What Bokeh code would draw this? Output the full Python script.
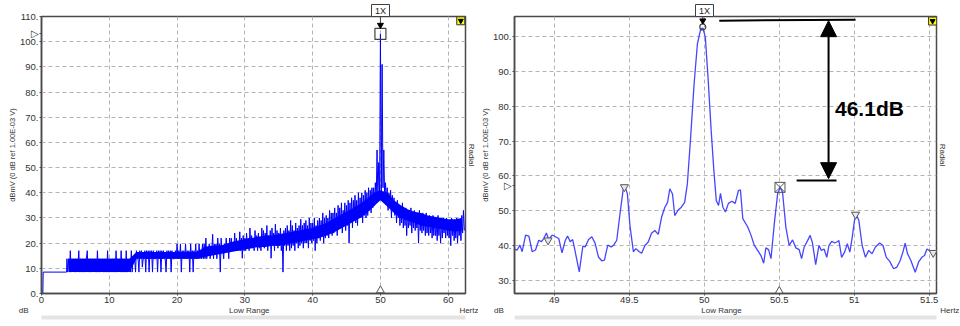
import math
from bokeh.plotting import figure
from bokeh.layouts import row
from bokeh.models import (Range1d, CustomJSTickFormatter, FixedTicker, Label, Arrow, NormalHead,
                          LinearAxis)
from bokeh.embed import file_html
from bokeh.resources import INLINE

FONT = "Liberation Sans"
NB = "\u00a0"

# ---------------- data ----------------
left_x_ticks = [0, 10, 20, 30, 40, 50, 60]
left_y_ticks = [0, 10, 20, 30, 40, 50, 60, 70, 80, 90, 100, 110]
right_x_ticks = [49, 49.5, 50, 50.5, 51, 51.5]
right_y_ticks = [30, 40, 50, 60, 70, 80, 90, 100]
bottom_texts = ["dB", "Low Range", "Hertz"]
side_text = "Radial"
order_text = "1X"
y_title = "dBmV (0 dB ref 1.00E-03 V)"

# left spectrum: lead-in, then per 0.25 Hz bin a high and a low reading
left_lead_f = [0.2, 0.25, 3.7]
left_lead_v = [0.0, 8.5, 8.5]
left_bin0 = 3.75
left_bin_step = 0.25
left_hi = [
    13.8,
    13.8, 17, 13.8, 13.8,
    13.8, 13.8, 17, 13.8,
    13.8, 13.8, 13.8, 17,
    13.8, 13.8, 13.8, 13.8,
    13.8, 17, 13.8, 13.8,
    13.8, 13.8, 13.8, 17,
    13.8, 13.8, 13.8, 13.8,
    17, 13.8, 13.8, 17,
    13.8, 13.8, 17, 13.8,
    13.8, 17, 13.8, 13.8,
    17, 13.8, 17, 17,
    13.8, 17, 17, 17,
    17, 17, 17, 13.8,
    17, 17, 17, 17,
    17, 13.8, 17, 17,
    17, 17, 13.8, 17,
    19.7, 17, 19.7, 17,
    17, 19.7, 17, 17,
    19.7, 17, 17, 19.7,
    17, 19.7, 17, 19.7,
    19.7, 22, 17, 19.7,
    17, 23.5, 19.7, 19.7,
    22, 19.7, 22, 17,
    19.7, 22, 19.7, 22,
    22, 19.7, 24, 22,
    20, 24.5, 22, 23,
    22, 24, 22, 26,
    23, 21, 25, 23,
    24, 22, 26, 25,
    24, 27, 23, 25,
    26, 24, 27.5, 25,
    24, 26, 23, 25,
    26, 27, 25, 29,
    27, 25, 28, 26,
    27, 29.5, 27, 28,
    29, 27, 30, 28,
    28, 30, 27, 29,
    30, 29, 32, 30,
    31, 30, 33, 32,
    32, 34, 32, 35,
    34, 36, 33, 36,
    35, 37, 36, 38,
    37, 39, 37, 40,
    38, 40, 39, 41,
    40, 42, 41, 42,
    42, 44, 57, 52,
    103, 91, 57, 44,
    42, 40, 41, 39,
    38, 36, 37, 35,
    34, 36, 33, 34,
    33, 31, 34, 32,
    33, 31, 30, 33,
    31, 32, 30, 32,
    30, 31, 29, 31,
    30, 28, 31, 29,
    29, 30, 28, 30,
    29, 27, 30, 28,
    28, 30, 27, 29,
    31, 33,
]
left_lo = [
    8.5,
    8.5, 8.5, 10.5, 8.5,
    8.5, 10.5, 8.5, 8.5,
    8.5, 8.5, 13.8, 8.5,
    8.5, 8.5, 10.5, 8.5,
    8.5, 8.5, 8.5, 10.5,
    8.5, 8.5, 8.5, 8.5,
    10.5, 8.5, 8.5, 8.5,
    8.5, 10.5, 8.5, 8.5,
    8.5, 8.5, 8.5, 10.5,
    8.5, 8.5, 13.8, 8.5,
    13.8, 8.5, 13.8, 10.5,
    13.8, 8.5, 13.8, 8.5,
    13.8, 8.5, 13.8, 13.8,
    8.5, 13.8, 8.5, 13.8,
    13.8, 8.5, 13.8, 13.8,
    8.5, 13.8, 13.8, 13.8,
    13.8, 13.8, 8.5, 13.8,
    13.8, 13.8, 13.8, 8.5,
    13.8, 8.5, 13.8, 13.8,
    13.8, 13.8, 13.8, 13.8,
    13.8, 13.8, 17, 13.8,
    17, 13.8, 17, 13.8,
    17, 8.5, 17, 13.8,
    17, 17, 13.8, 17,
    17, 17, 17, 17,
    17, 17, 14, 17,
    17, 19, 17, 18,
    18, 17, 19, 17,
    18, 17, 19, 18,
    19, 17, 19, 14,
    19, 17, 19, 18,
    19, 17, 8.5, 19,
    17, 19, 17, 18,
    19, 17, 20, 18,
    19, 20, 18, 20,
    20, 18, 21, 20,
    21, 17, 20, 22,
    21, 23, 20, 22,
    23, 22, 24, 23,
    24, 25, 23, 26,
    26, 24, 27, 25,
    27, 20, 28, 26,
    29, 28, 27, 30,
    30, 28, 31, 30,
    31, 33, 32, 34,
    35, 36, 38, 40,
    40, 42, 38, 36,
    33, 35, 30, 33,
    31, 28, 30, 27,
    28, 26, 27, 23,
    26, 27, 24, 26,
    25, 26, 20, 25,
    24, 25, 23, 24,
    23, 24, 22, 23,
    23, 21, 23, 20,
    22, 24, 22, 23,
    22, 19, 23, 21,
    22, 20, 23, 21,
    24, 25,
]
# dense core of the left noise band, read per 1 Hz (4 ... 62 Hz)
core_f = [4, 5, 6, 7, 8, 9, 10, 11, 12, 13,
          14, 15, 16, 17, 18, 19, 20, 21, 22, 23,
          24, 25, 26, 27, 28, 29, 30, 31, 32, 33,
          34, 35, 36, 37, 38, 39, 40, 41, 42, 43,
          44, 45, 46, 47, 48, 49, 50, 51, 52, 53,
          54, 55, 56, 57, 58, 59, 60, 61, 62]
core_lo = [8.5, 8.5, 8.5, 8.5, 8.5, 8.5, 8.5, 8.5, 8.5, 8.5,
           13.8, 13.8, 13.8, 13.8, 13.8, 13.8, 13.8, 13.8, 13.8, 13.8,
           14.5, 15, 15.5, 16, 16.5, 17, 17.5, 18, 18.5, 18.5,
           19, 19, 19.5, 20, 20.5, 21, 21.5, 22, 23, 24,
           25.5, 27, 28.5, 30, 32, 34.5, 37, 34.5, 32, 30,
           29, 28, 27, 26.5, 26, 25.5, 25, 24.5, 25]
core_hi = [13.8, 13.8, 13.8, 13.8, 13.8, 13.8, 13.8, 13.8, 13.8, 13.8,
           16.5, 16.5, 16.5, 16.5, 16.5, 16.5, 16.5, 16.5, 16.5, 16.5,
           18.5, 19, 19, 19.5, 20.5, 21, 21.5, 22, 22.5, 23,
           23, 23.5, 24, 24.5, 25, 25.5, 26, 27, 28, 29.5,
           31, 32.5, 34, 35.5, 37.5, 40, 41, 40, 37, 35,
           33.5, 32.5, 32, 31, 30.5, 30, 29.5, 29.5, 30]

# right (zoomed) spectrum
right_f = [
    48.735, 48.752, 48.770, 48.785, 48.808, 48.830, 48.852, 48.874, 48.896, 48.914,
    48.929, 48.947, 48.962, 48.985, 49.007, 49.029, 49.051, 49.073, 49.088, 49.106,
    49.122, 49.139, 49.166, 49.190, 49.206, 49.228, 49.250, 49.272, 49.294, 49.316,
    49.334, 49.356, 49.378, 49.396, 49.416, 49.438, 49.460, 49.471, 49.487, 49.504,
    49.527, 49.544, 49.566, 49.582, 49.604, 49.626, 49.648, 49.670, 49.693, 49.715,
    49.737, 49.755, 49.770, 49.788, 49.803, 49.826, 49.847, 49.869, 49.887, 49.909,
    49.932, 49.954, 49.976, 49.991, 50.007, 50.025, 50.046, 50.064, 50.080, 50.095,
    50.108, 50.124, 50.141, 50.161, 50.184, 50.206, 50.228, 50.241, 50.257, 50.290,
    50.312, 50.334, 50.356, 50.378, 50.396, 50.411, 50.429, 50.445, 50.467, 50.489,
    50.506, 50.522, 50.544, 50.566, 50.589, 50.611, 50.633, 50.649, 50.666, 50.689,
    50.706, 50.722, 50.743, 50.765, 50.781, 50.799, 50.817, 50.832, 50.850, 50.870,
    50.883, 50.898, 50.916, 50.936, 50.954, 50.971, 50.987, 51.002, 51.015, 51.031,
    51.053, 51.075, 51.097, 51.119, 51.141, 51.170, 51.192, 51.214, 51.236, 51.263,
    51.285, 51.307, 51.325, 51.340, 51.356, 51.378, 51.407, 51.429, 51.451, 51.469,
    51.485, 51.507, 51.529,
]
right_v = [
    38.9, 38.7, 40.1, 38.2, 43.0, 42.7, 38.2, 38.7, 41.5, 41.1,
    42.0, 43.6, 41.7, 43.0, 42.5, 42.0, 37.9, 41.5, 42.7, 41.1,
    41.7, 38.2, 32.4, 39.8, 39.6, 41.7, 42.5, 40.6, 36.7, 35.6,
    35.8, 40.1, 39.6, 40.1, 41.5, 49.2, 56.4, 56.8, 54.9, 45.8,
    38.2, 39.1, 38.2, 37.8, 40.0, 41.0, 43.5, 44.3, 43.2, 48.1,
    51.0, 52.4, 56.3, 54.8, 48.6, 50.2, 51.0, 52.4, 57.7, 71.1,
    86.4, 97.9, 102.2, 102.5, 99.8, 88.3, 73.0, 61.5, 52.9, 51.5,
    55.0, 51.0, 49.6, 52.1, 52.7, 52.1, 55.8, 56.0, 47.7, 45.3,
    42.9, 40.0, 38.6, 37.1, 34.9, 39.3, 38.8, 36.2, 46.2, 54.8,
    56.7, 55.3, 45.3, 40.0, 41.6, 39.3, 38.8, 36.2, 39.5, 41.4,
    42.9, 40.7, 34.5, 40.0, 38.6, 39.0, 36.6, 40.0, 41.2, 40.7,
    41.0, 41.4, 36.6, 38.1, 40.5, 38.1, 42.4, 47.2, 48.9, 47.2,
    40.0, 36.6, 38.6, 37.6, 39.5, 40.7, 40.0, 36.6, 35.5, 33.3,
    33.8, 35.7, 38.1, 40.7, 37.6, 35.7, 32.3, 35.2, 36.6, 37.1,
    39.0, 38.4, 37.8,
]

# peak markers
right_tri_f = [48.958, 49.467, 51.009, 51.527]
right_tri_v = [41.5, 56.8, 48.9, 37.9]
right_peak_f = [49.99]
right_peak_v = [102.8]
right_side_f = [50.505]
right_side_v = [56.7]
left_peak_f = [50.0]
left_peak_v = [103.1]
left_level_mark = 103.1
right_level_mark = 57.2
delta_text = "46.1dB"
delta_top = 104.6
delta_bottom = 59.2


# ---------------- helpers ----------------
def make_fig(width, x0, x1, y0, y1, bl, br, yticks, mark, title_offset):
    p = figure(width=width, height=326, x_range=Range1d(x0, x1), y_range=Range1d(y0, y1),
               output_backend="svg", toolbar_location=None, title=NB + order_text + NB,
               min_border_left=bl, min_border_right=br, min_border_top=16, min_border_bottom=33)
    p.background_fill_color = "white"
    p.border_fill_color = "white"
    p.outline_line_color = "#4a4a4a"
    p.outline_line_width = 1.5

    t = p.title
    t.align = "left"
    t.offset = title_offset
    t.standoff = 0
    t.text_font = FONT
    t.text_font_size = "9px"
    t.text_font_style = "normal"
    t.text_color = "#222222"
    t.border_line_color = "#404040"
    t.border_line_width = 1
    t.background_fill_color = "white"
    t.padding = 1

    for g in (p.xgrid[0], p.ygrid[0]):
        g.grid_line_color = "#b4b4b4"
        g.grid_line_dash = "4 3"
        g.grid_line_width = 1
    p.ygrid[0].ticker = FixedTicker(ticks=yticks)
    for ax in (p.xaxis[0], p.yaxis[0]):
        ax.axis_line_color = "#4a4a4a"
        ax.axis_line_width = 1.5
        ax.major_tick_line_color = "#4a4a4a"
        ax.major_tick_in = 0
        ax.major_tick_out = 2
        ax.minor_tick_line_color = None
        ax.major_label_text_font = FONT
        ax.major_label_text_font_size = "9.5px"
        ax.major_label_text_color = "#333333"
        ax.major_label_standoff = 1
        ax.axis_label_text_font = FONT
        ax.axis_label_text_font_style = "normal"
        ax.axis_label_text_color = "#333333"
        ax.axis_label_standoff = 0
    p.yaxis[0].axis_label = y_title
    p.yaxis[0].axis_label_text_font_size = "7.5px"
    p.yaxis[0].ticker = FixedTicker(ticks=yticks + [mark])
    p.yaxis[0].formatter = CustomJSTickFormatter(
        args=dict(mark=mark),
        code="if (Math.abs(tick - mark) < 1e-6) { return '\u25b7'; } return tick.toFixed(0) + '.';")
    p.xaxis[0].formatter = CustomJSTickFormatter(code="return String(tick);")
    return p


def add_bottom_row(p, pos, labels):
    ax = LinearAxis(ticker=FixedTicker(ticks=pos),
                    formatter=CustomJSTickFormatter(args=dict(labs=labels), code="return labs[index];"))
    ax.axis_line_color = None
    ax.major_tick_line_color = None
    ax.minor_tick_line_color = None
    ax.major_tick_in = 0
    ax.major_tick_out = 0
    ax.major_label_standoff = 0
    ax.major_label_text_font = FONT
    ax.major_label_text_font_size = "8px"
    ax.major_label_text_color = "#333333"
    p.add_layout(ax, "below")
    # light gray bar under the chart
    bar = LinearAxis(ticker=FixedTicker(ticks=[]))
    bar.axis_line_color = "#e4e4e4"
    bar.axis_line_width = 4
    bar.major_tick_line_color = None
    bar.minor_tick_line_color = None
    bar.major_tick_in = 0
    bar.major_tick_out = 0
    bar.major_label_standoff = 0
    p.add_layout(bar, "below")


def add_side_text(p):
    ax = LinearAxis(ticker=FixedTicker(ticks=[]), axis_label=side_text)
    ax.axis_line_color = None
    ax.major_tick_line_color = None
    ax.minor_tick_line_color = None
    ax.major_tick_in = 0
    ax.major_tick_out = 0
    ax.major_label_standoff = 0
    ax.axis_label_standoff = 1
    ax.axis_label_text_font = FONT
    ax.axis_label_text_font_size = "8px"
    ax.axis_label_text_font_style = "normal"
    ax.axis_label_text_color = "#333333"
    p.add_layout(ax, "right")


# ---------------- left panel ----------------
p1 = make_fig(478, 0, 62.55, 0, 110, 41, 12, left_y_ticks, left_level_mark, 330)
p1.xaxis[0].ticker = FixedTicker(ticks=left_x_ticks)
add_bottom_row(p1, [0.001, 30.66, 62.54],
               [bottom_texts[0] + NB * 16, bottom_texts[1], NB * 9 + bottom_texts[2]])
add_side_text(p1)

p1.varea(x=core_f, y1=core_lo, y2=core_hi, fill_color="#0000ff", fill_alpha=1.0)
lx = list(left_lead_f)
ly = list(left_lead_v)
for i, (h, l) in enumerate(zip(left_hi, left_lo)):
    f = left_bin0 + i * left_bin_step
    lx += [f, f + left_bin_step / 2]
    ly += [h, l]
p1.line(lx, ly, line_color="#0000ff", line_width=1)

p1.scatter(left_peak_f, left_peak_v, marker="square", size=11, fill_color=None, line_color="#404040", line_width=1.2)
p1.segment(x0=[50], y0=[110], x1=[50], y1=[106.6], line_color="#404040", line_width=1)
p1.scatter([50], [106.6], marker="inverted_triangle", size=6, fill_color="black", line_color="black")
p1.scatter([61.85], [108.3], marker="square", size=8, fill_color="#ffff00", line_color="#333333")
p1.scatter([61.85], [108.3], marker="inverted_triangle", size=5, fill_color="black", line_color="black")
p1.scatter([50], [1.2], marker="triangle", size=8, fill_color="white", line_color="#555555")

# ---------------- right panel ----------------
p2 = make_fig(482, 48.734, 51.549, 26.2, 105.8, 34, 24, right_y_ticks, right_level_mark, 181)
p2.xaxis[0].ticker = FixedTicker(ticks=right_x_ticks)
add_bottom_row(p2, [48.7341, 50.115, 51.5489],
               [bottom_texts[0] + NB * 14, bottom_texts[1], NB * 12 + bottom_texts[2]])
add_side_text(p2)

p2.line(right_f, right_v, line_color="#4646ff", line_width=1.3)
p2.scatter(right_tri_f, right_tri_v, marker="inverted_triangle", size=8, fill_color="#e8e8e8",
           line_color="#555555", line_width=1)
p2.scatter(right_peak_f, right_peak_v, marker="circle", size=6, fill_color=None, line_color="#404040", line_width=1.2)
p2.scatter(right_side_f, right_side_v, marker="square_x", size=10, fill_color=None, line_color="#555555", line_width=1)
p2.segment(x0=[49.99], y0=[105.8], x1=[49.99], y1=[104.6], line_color="#404040", line_width=1)
p2.scatter([49.99], [104.6], marker="inverted_triangle", size=6, fill_color="black", line_color="black")
p2.scatter([51.523], [104.5], marker="square", size=8, fill_color="#ffff00", line_color="#333333")
p2.scatter([51.523], [104.5], marker="inverted_triangle", size=5, fill_color="black", line_color="black")
p2.scatter([50.5], [26.9], marker="triangle", size=8, fill_color="white", line_color="#555555")

# 46.1 dB measurement annotation
p2.segment(x0=[50.100], y0=[delta_top], x1=[51.009], y1=[delta_top + 0.3], line_color="black", line_width=2)
p2.segment(x0=[50.616], y0=[delta_bottom - 0.5], x1=[50.882], y1=[delta_bottom - 0.5], line_color="black", line_width=2)
p2.add_layout(Arrow(start=NormalHead(size=16, fill_color="black", line_color="black"),
                    end=NormalHead(size=16, fill_color="black", line_color="black"),
                    x_start=50.829, y_start=delta_bottom, x_end=50.829, y_end=delta_top,
                    line_color="black", line_width=2))
p2.add_layout(Label(x=50.872, y=79.3, text=delta_text, text_font=FONT, text_font_size="21px",
                    text_font_style="bold", text_align="left", text_baseline="middle", text_color="black"))

layout = row(p1, p2)
open("out.html", "w").write(file_html(layout, INLINE))
